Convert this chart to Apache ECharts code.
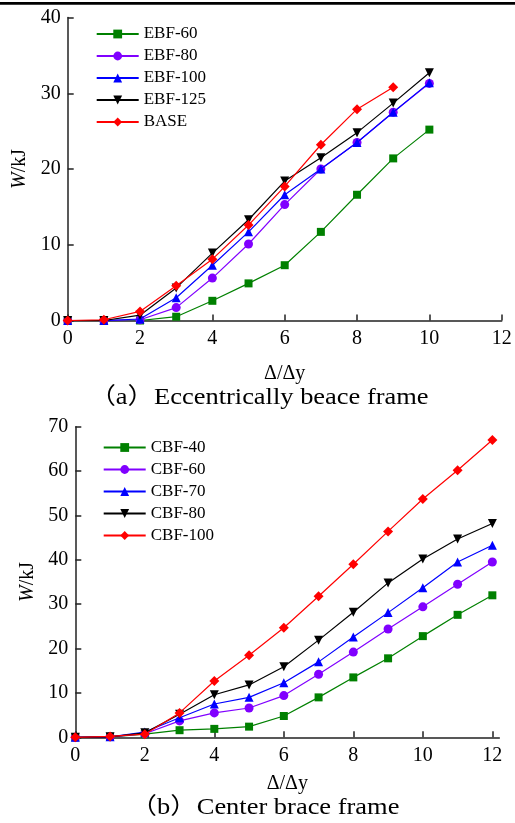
<!DOCTYPE html>
<html><head><meta charset="utf-8">
<script src="https://cdn.jsdelivr.net/npm/echarts@6/dist/echarts.min.js"></script>
<style>html,body{margin:0;padding:0;background:#fff}#c{width:515px;height:823px}</style>
</head><body><div id="c"></div>
<script>
// ---- Data: top panel (a) Eccentrically brace frame ----
const xTop = [0,1,2,3,4,5,6,7,8,9,10];
const xBase = [0,1,2,3,4,5,6,7,8,9];
const ebf60  = [0,0,0,0.5,2.6,4.9,7.3,11.7,16.6,21.4,25.2];
const ebf80  = [0,0,0.1,1.7,5.6,10.1,15.3,20.0,23.5,27.5,31.3];
const ebf100 = [0,0,0.2,3.0,7.3,11.7,16.6,20.0,23.5,27.5,31.4];
const ebf125 = [0,0,0.7,4.3,8.9,13.3,18.4,21.5,24.8,28.7,32.7];
const base   = [0,0.1,1.2,4.6,8.1,12.6,17.7,23.2,27.9,30.8];
const topNames = ['EBF-60','EBF-80','EBF-100','EBF-125','BASE'];
// ---- Data: bottom panel (b) Center brace frame ----
const xBot = [0,1,2,3,4,5,6,7,8,9,10,11,12];
const cbf40  = [0,0.1,0.7,1.6,1.9,2.4,4.8,9.0,13.5,17.8,22.8,27.6,32.0];
const cbf60  = [0,0.1,0.8,3.7,5.5,6.6,9.4,14.2,19.2,24.4,29.4,34.5,39.5];
const cbf70  = [0,0.1,1.2,4.4,7.5,9.0,12.3,17.0,22.6,28.1,33.7,39.5,43.3];
const cbf80  = [0,0.1,1.0,5.2,9.6,11.8,15.9,21.9,28.2,34.8,40.2,44.7,48.2];
const cbf100 = [0,0.2,0.7,5.5,12.7,18.5,24.7,31.8,39.0,46.4,53.7,60.2,67.0];
const botNames = ['CBF-40','CBF-60','CBF-70','CBF-80','CBF-100'];
const xTicksTop = [0,2,4,6,8,10,12];
const xTicksBot = [0,2,4,6,8,10,12];
const captionA = '（a）Eccentrically beace frame';
const captionB = '（b）Center brace frame';

const colors = ['#008000','#8000ff','#0000ff','#000000','#ff0000'];
const symbols = ['rect','circle','triangle','triangle','diamond'];
const symSizes = [8,9,9,9,10];
const rot = [0,0,0,180,0];
const FONT = '"Liberation Serif","Times New Roman",serif';

function pairs(xs, ys){ return ys.map((v,i)=>[xs[i], v]); }
function mkSeries(name, idx, xs, ys, axisIdx){
  return {
    name, type:'line', xAxisIndex:axisIdx, yAxisIndex:axisIdx,
    data: pairs(xs, ys), symbol: symbols[idx], symbolSize: symSizes[idx], symbolRotate: rot[idx],
    showAllSymbol:true,
    lineStyle:{color:colors[idx], width:1.2}, itemStyle:{color:colors[idx]},
    emphasis:{disabled:true}, animation:false, z: 2+idx
  };
}
const topYs = [ebf60, ebf80, ebf100, ebf125, base];
const botYs = [cbf40, cbf60, cbf70, cbf80, cbf100];
const series = [];
topNames.forEach((n,i)=>series.push(mkSeries(n,i, i===4?xBase:xTop, topYs[i], 0)));
botNames.forEach((n,i)=>series.push(mkSeries(n,i, xBot, botYs[i], 1)));

const axisLineStyle = {color:'#222', width:1.5};
function xAx(gi, max, ticks, gap){
  return {type:'value', gridIndex:gi, min:0, max:max, interval:2,
    name:'Δ/Δy', nameLocation:'middle', nameGap:gap,
    nameTextStyle:{fontFamily:FONT, fontSize:20, color:'#000'},
    axisLine:{show:true, lineStyle:axisLineStyle},
    axisTick:{show:true, inside:true, length:6, lineStyle:axisLineStyle, customValues:ticks},
    axisLabel:{fontFamily:FONT, fontSize:20, color:'#000', margin:8, customValues:ticks},
    splitLine:{show:false}};
}
function yAx(gi, max, interval, gap){
  return {type:'value', gridIndex:gi, min:0, max:max, interval:interval,
    name:'{i|W}/kJ', nameLocation:'middle', nameGap:gap,
    nameTextStyle:{fontFamily:FONT, fontSize:20, color:'#000',
      rich:{i:{fontFamily:FONT, fontSize:20, fontStyle:'italic', color:'#000'}}},
    axisLine:{show:true, lineStyle:axisLineStyle},
    axisTick:{show:true, inside:true, length:6, lineStyle:axisLineStyle},
    axisLabel:{fontFamily:FONT, fontSize:20, color:'#000', margin:7},
    splitLine:{show:false}};
}
function legend(names, left, top){
  return {data:names, orient:'vertical', left:left, top:top, padding:0, itemWidth:42, itemHeight:11, itemGap:5,
    textStyle:{fontFamily:FONT, fontSize:17, color:'#000'}, symbolRotate:'inherit', selectedMode:false};
}
function caption(text, cx, cy){
  return {type:'text', x:cx, y:cy, scaleX:1.15,
    style:{text:text, x:0, y:0, align:'center', verticalAlign:'middle',
      font:'23px "Liberation Serif","Noto Sans CJK SC",serif', fill:'#000'}};
}

const chart = echarts.init(document.getElementById('c'), null, {renderer:'canvas'});
chart.setOption({
  animation:false,
  grid:[{left:67.7, top:17.5, width:434, height:303},
        {left:75.3, top:426.7, width:424, height:310.6}],
  xAxis:[xAx(0,12,xTicksTop,43), xAx(1,12.2,xTicksBot,36)],
  yAxis:[yAx(0,40,10,35), yAx(1,70,10,32)],
  legend:[legend(topNames,95.7,25.5), legend(botNames,102.7,439)],
  series:series,
  graphic:[
    {type:'rect', shape:{x:0,y:2,width:515,height:2.8}, style:{fill:'#000'}},
    caption(captionA, 259, 398),
    caption(captionB, 265, 808)
  ]
});
</script></body></html>
